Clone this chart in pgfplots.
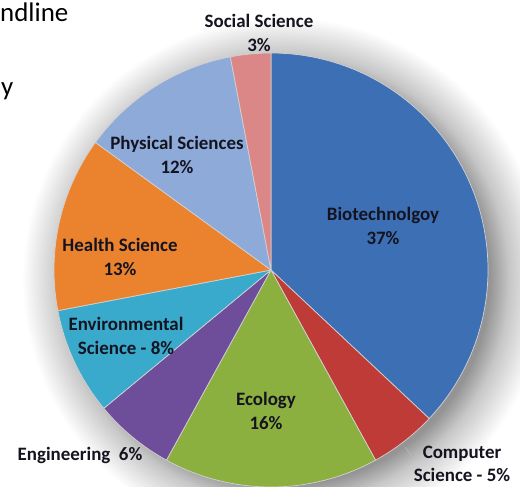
\documentclass[border=0pt]{standalone}
\usepackage{pgfplots}
\pgfplotsset{compat=1.18}
\usepackage{pgfplotstable}
\usepackage{fontspec}
\setmainfont{Carlito}

\definecolor{pie0}{HTML}{3D6FB5}
\definecolor{pie1}{HTML}{BE3B37}
\definecolor{pie2}{HTML}{8CB040}
\definecolor{pie3}{HTML}{6E4E9B}
\definecolor{pie4}{HTML}{3AAACC}
\definecolor{pie5}{HTML}{EB822D}
\definecolor{pie6}{HTML}{8EAAD9}
\definecolor{pie7}{HTML}{DC8787}
\definecolor{labtext}{HTML}{141420}

\pgfdeclareradialshading{pieshadow}{\pgfpoint{0bp}{0bp}}{%
  color(0bp)=(black!42); color(19.6bp)=(black!42); color(21.5bp)=(black!22);
  color(25bp)=(white); color(50bp)=(white)}

\newcommand\labfont{\fontsize{19}{23.5}\selectfont\bfseries\color{labtext}}

\pgfplotstableread{
name value
Biotechnology 37
ComputerScience 5
Ecology 16
Engineering 6
Environmental 8
Health 13
Physical 12
Social 3
}\piedata

\begin{document}
\gdef\pieslices{}%
\gdef\piecum{0}%
\pgfplotstableforeachcolumnelement{value}\of\piedata\as\v{%
  \pgfmathsetmacro\pa{90-3.6*\piecum}%
  \pgfmathsetmacro\pb{90-3.6*(\piecum+\v)}%
  \pgfmathsetmacro\px{271+217*cos(\pa)}%
  \pgfmathsetmacro\py{217+217*sin(\pa)}%
  \xdef\pieslices{\unexpanded\expandafter{\pieslices}\noexpand\fill[fill=pie\pgfplotstablerow,draw=white!65!gray,line width=0.7bp,line join=round] (axis cs:271,217) -- (axis cs:\px,\py) arc[start angle=\pa,end angle=\pb,radius=217bp] -- cycle;}%
  \pgfmathsetmacro\tmp{\piecum+\v}\xdef\piecum{\tmp}%
}%
\begin{tikzpicture}
\path[use as bounding box] (0,0) rectangle (520bp,487bp);
\clip (0,0) rectangle (520bp,487bp);
\fill[white] (0,0) rectangle (520bp,487bp);
\begin{axis}[x=1bp, y=1bp, xmin=0, xmax=520, ymin=0, ymax=487,
  hide axis, scale only axis, at={(0,0)}, anchor=south west, clip=false]
  \shade[shading=pieshadow] (axis cs:284,208) circle[radius=262bp];
  \pieslices
  \draw[gray!55, line width=0.6bp] (axis cs:405,40) -- (axis cs:413,29);
  \node[font=\labfont, align=center] at (axis cs:259,454) {Social Science\\3\%};
  \node[font=\labfont, align=center] at (axis cs:177,332) {Physical Sciences\\12\%};
  \node[font=\labfont, align=center] at (axis cs:120,230) {Health Science\\13\%};
  \node[font=\labfont, align=center] at (axis cs:126,151) {Environmental\\Science - 8\%};
  \node[font=\labfont, align=center] at (axis cs:80,32) {Engineering\ \ 6\%};
  \node[font=\labfont, align=center] at (axis cs:266,76) {Ecology\\16\%};
  \node[font=\labfont, align=center] at (axis cs:383,261) {Biotechnolgoy\\37\%};
  \node[font=\labfont, align=center, inner sep=1bp] at (axis cs:462,23) {Computer\\Science - 5\%};
  \node[anchor=base west, inner sep=0pt, font=\fontsize{27}{30}\selectfont] at (axis cs:0,465) {ndline};
  \node[anchor=base west, inner sep=0pt, font=\fontsize{27}{30}\selectfont] at (axis cs:1,391) {y};
\end{axis}
\end{tikzpicture}
\end{document}
